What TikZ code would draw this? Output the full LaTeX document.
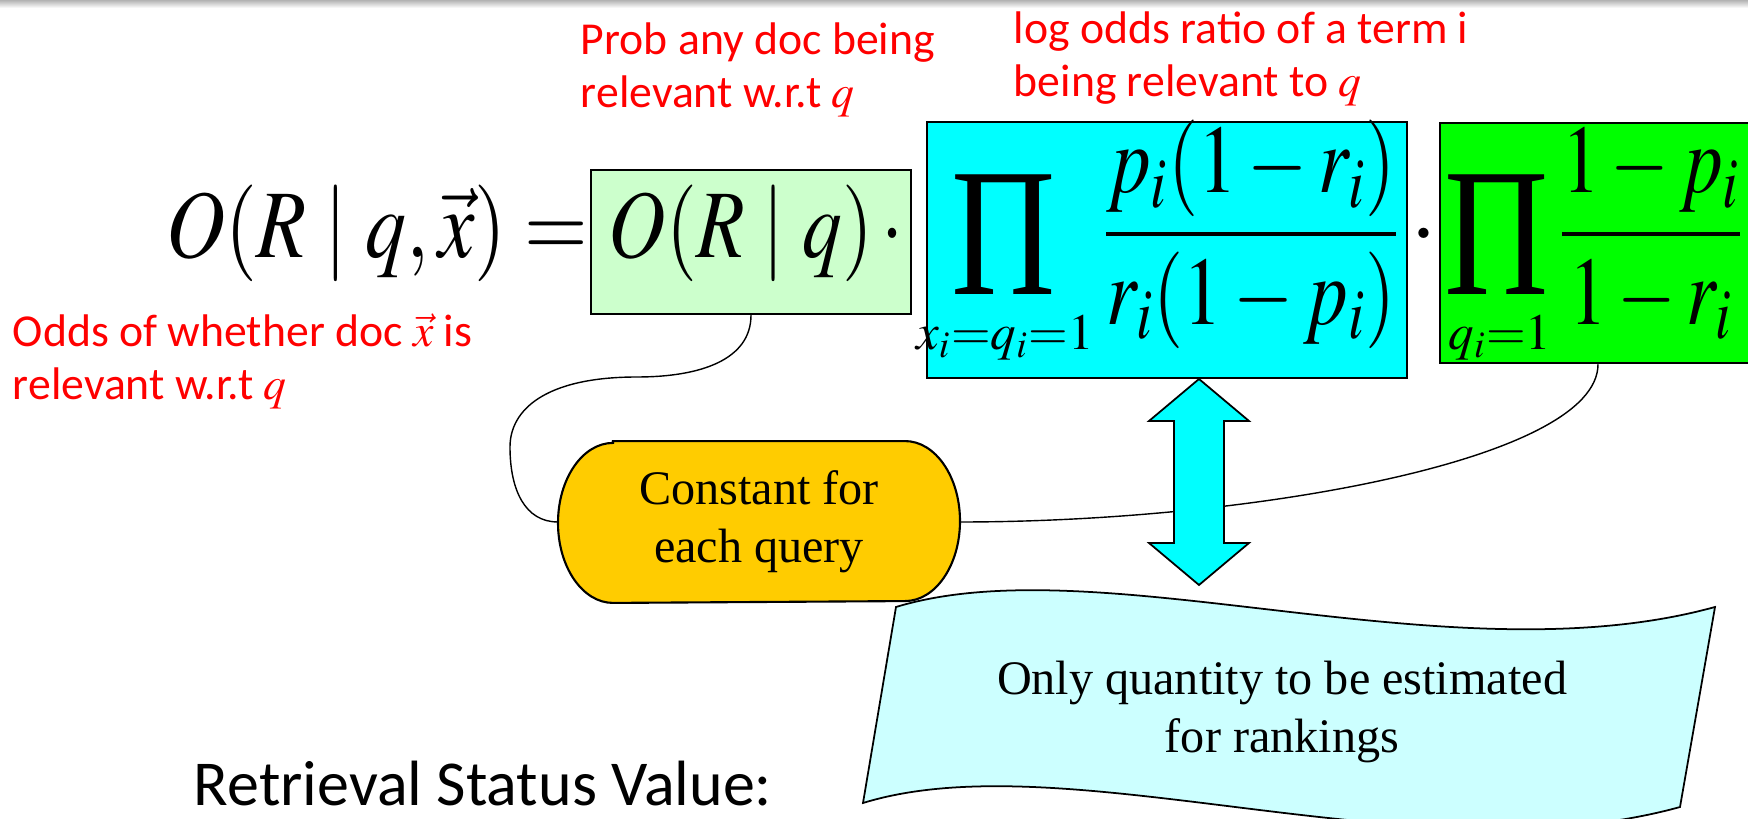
\documentclass[tikz,border=0pt]{standalone}
\usepackage{mathptmx}
\usepackage{graphicx}
\usepackage{fontspec}
\setmainfont{Liberation Serif}
\newfontfamily\calibri{Carlito}
\usetikzlibrary{calc, backgrounds}
\definecolor{cred}{HTML}{FF0000}
\definecolor{clgreen}{HTML}{CCFFCC}
\definecolor{ccyan}{HTML}{00FFFF}
\definecolor{cgreen}{HTML}{00FF00}
\definecolor{cgold}{HTML}{FFCC00}
\definecolor{cpale}{HTML}{CCFFFF}
\tikzset{
  every picture/.style={line width=0.5pt},
  termbox/.style={draw=black, fill=#1, line width=0.6pt, inner sep=0pt},
  note/.style={font=\calibri\fontsize{13}{15.1}\selectfont, text=cred, align=left, inner sep=0pt},
  formula/.style={font=\fontsize{27.5}{32}\selectfont, inner sep=0pt},
  bigprod/.style={font=\fontsize{52}{52}\selectfont, inner sep=0pt},
  limit/.style={font=\fontsize{14.5}{17}\selectfont, inner sep=0pt, anchor=base},
  plain/.style={font=\fontsize{13.7}{16.6}\selectfont, align=center, inner sep=0pt},
  link/.style={draw=black, line width=0.4pt},
  dblarrow/.style={draw=black, fill=ccyan, line width=0.5pt, line join=miter},
}

\begin{document}
\begin{tikzpicture}[x=0.01cm, y=-0.01cm]
  \clip (0,0) rectangle (1748,819);
  \shade[top color=black!30, bottom color=white] (0,0) rectangle (1748,8);

  % red remarks
  \node[note, anchor=base west] (probnote) at (580,108) {Prob any doc being\\relevant w.r.t $q$};
  \node[note, anchor=base west] (lognote) at (1013,97) {log odds ratio of a term i\\being relevant to $q$};
  \node[note, anchor=base west] (oddsnote) at (12,400) {Odds of whether doc $\vec{x}$ is\\relevant w.r.t $q$};

  % the three factors
  \node[termbox=clgreen, minimum width=3.2cm, minimum height=1.44cm] (pconst) at (751,242) {};
  \node[termbox=ccyan, minimum width=4.8cm, minimum height=2.56cm] (pratio) at (1167,250) {};
  \node[termbox=cgreen, minimum width=3.6cm, minimum height=2.4cm, anchor=north west] (pgreen) at (1439,122) {};

  \node[formula, anchor=base east] (lhs) at (589,258) {\scalebox{0.845}[1]{$O(R\mid q,\vec{x})=$}};
  \node[formula, anchor=base west] (pconsttxt) at (608,258) {\scalebox{0.82}[1]{$O(R\mid q)\,\cdot$}};

  \node[bigprod] (prodA) at (1004,235) {\scalebox{0.79}[1]{Π}};
  \node[limit] (limA) at (1005,350) {$x_i{=}q_i{=}1$};
  \node[formula, anchor=base] (fracA) at (1251,258) {\scalebox{0.8}[1]{$\displaystyle\frac{p_i(1-r_i)}{r_i(1-p_i)}$}};
  \node[formula, anchor=base] (dot2) at (1424,258) {$\cdot$};
  \node[bigprod] (prodB) at (1497,235) {\scalebox{0.79}[1]{Π}};
  \node[limit] (limB) at (1500,350) {$q_i{=}1$};
  \node[formula, anchor=base] (fracB) at (1651,258) {\scalebox{0.78}[1]{$\displaystyle\frac{1-p_i}{1-r_i}$}};

  % constant part
  \node[plain, minimum width=4cm, minimum height=1.6cm] (const) at (759,522) {Constant for\\each query};
  \begin{scope}[on background layer]
    \draw[fill=cgold, line width=0.6pt] ($(const.north west)+(55,0)$) -- ($(const.north east)+(-55,0)$)
      arc[start angle=-90, end angle=90, x radius=55, y radius=80]
      -- ($(const.south west)+(55,0)$)
      arc[start angle=90, end angle=270, x radius=55, y radius=80] -- cycle;
  \end{scope}

  \coordinate (gfoot) at ($(pgreen.south west)+(159,0)$);
  \draw[link] (pconst.south) .. controls (751,360) and (700,377) .. (637,377)
    .. controls (545,377) and (510,410) .. (510,447)
    .. controls (510,490) and (525,522) .. (const.west);
  \draw[link] (const.east) .. controls (1250,522) and (1598,460) .. (gfoot);

  % banner
  \draw[fill=cpale, line width=0.5pt] (896,607) .. controls (1100,545) and (1450,680) .. (1715,607)
    -- (1680,807) .. controls (1417,880) and (1067,740) .. (863,803) -- cycle;
  \node[plain] (estimate) at (1282,712) {Only quantity to be estimated\\for rankings};

  \coordinate (atop) at (1199,379);
  \coordinate (abot) at (1199,585);
  \draw[dblarrow] (atop) -- ++(50,42) -- ++(-25,0) -- ($(abot)+(25,-42)$) -- ++(25,0) -- (abot)
    -- ++(-50,-42) -- ++(25,0) -- ($(atop)+(-25,42)$) -- ++(-25,0) -- cycle;

  \node[anchor=base west, font=\calibri\fontsize{18.2}{21}\selectfont, inner sep=0pt] (rsv) at (193,806) {Retrieval Status Value:};
\end{tikzpicture}
\end{document}
